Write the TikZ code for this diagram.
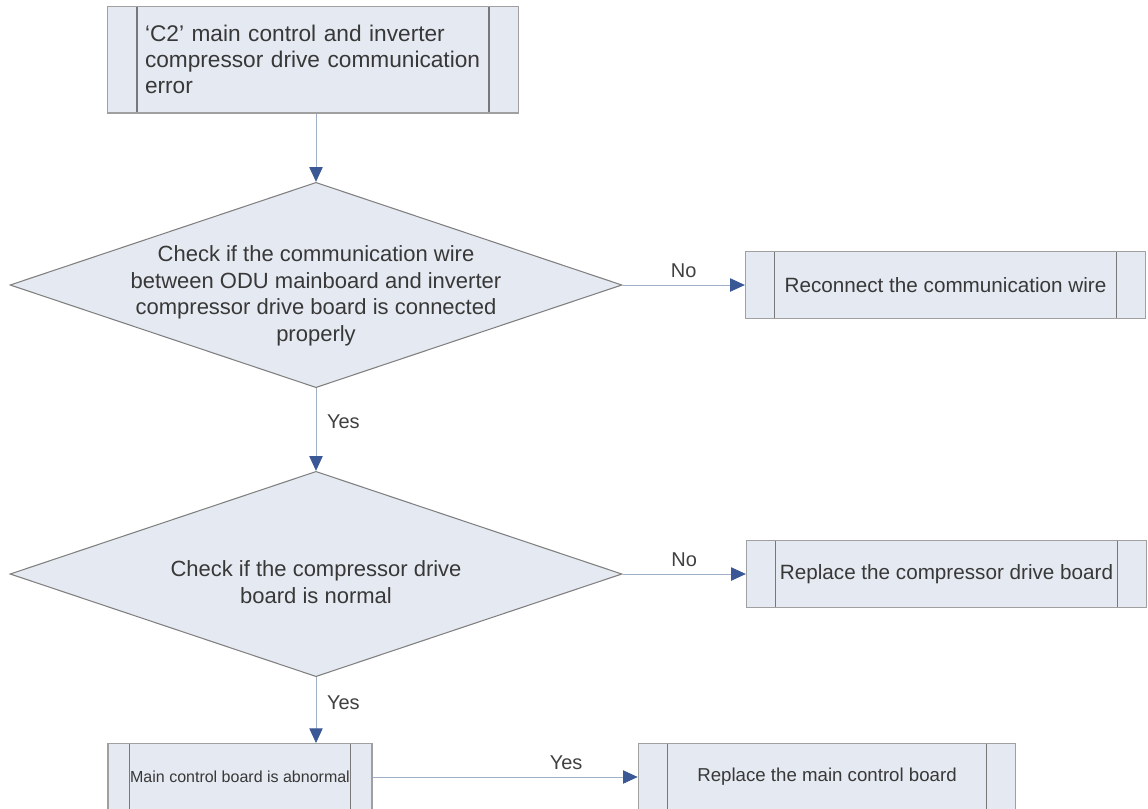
\documentclass[tikz,border=0pt]{standalone}
\usepackage{fontspec}
\setmainfont{Liberation Sans}
\usetikzlibrary{positioning,arrows.meta,shapes.geometric}
\definecolor{boxfill}{RGB}{229,233,241}
\definecolor{boxedge}{RGB}{160,160,160}
\definecolor{tipblue}{RGB}{58,88,150}
\definecolor{wire}{RGB}{160,176,200}
\colorlet{txt}{black!78}
\tikzset{
  proc inset/.store in=\procinset, proc inset=22pt,
  proc/.style={draw=boxedge, fill=boxfill, line width=1pt, minimum width=#1, minimum height=50pt,
               inner sep=0pt, font=\fontsize{15.5}{20}\selectfont, text=txt,
               path picture={\draw[boxedge!75!black, line width=0.8pt]
                 ([xshift=\procinset]path picture bounding box.north west) -- ([xshift=\procinset]path picture bounding box.south west)
                 ([xshift=-\procinset]path picture bounding box.north east) -- ([xshift=-\procinset]path picture bounding box.south east);}},
  decision/.style={diamond, draw=black!50, fill=boxfill, line width=0.8pt,
                   minimum width=459pt, minimum height=154pt, inner sep=0pt},
  dtext/.style={align=center, font=\fontsize{16.5}{20}\selectfont, text=txt, inner sep=0pt},
  flow/.style={-{Triangle[length=11pt,width=10pt,color=tipblue]}, draw=wire, line width=0.6pt},
  lbl/.style={font=\fontsize{15}{18}\selectfont, text=black!75, inner sep=2pt},
}
\begin{document}
\begin{tikzpicture}[x=0.75pt, y=-0.75pt]
\useasboundingbox (0,0) rectangle (1148,808);
\clip (0,0) rectangle (1148,808);

% error code and the two checks
\node[proc=308pt, minimum height=80pt, text width=252pt, align=left, font=\fontsize{17}{19.5}\selectfont] (err) at (313,59.5)
  {`C2' main control and inverter\\compressor drive communication\\error};
\node[decision, label={[dtext, yshift=-8pt]center:{Check if the communication wire\\between ODU mainboard and inverter\\compressor drive board is connected\\properly}}] (chkwire) at (316,285) {};
\node[decision, label={[dtext, yshift=-6pt]center:{Check if the compressor drive\\board is normal}}] (chkdrive) at (316,574) {};

% actions
\node[proc=300pt] (rewire) at (945.5,285) {Reconnect the communication wire};
\node[proc=300pt] (newdrive) at (946.5,574) {Replace the compressor drive board};
\node[proc=198pt, proc inset=16pt, font=\fontsize{12}{15}\selectfont] (mainbad) at (240,777) {Main control board is abnormal};
\node[proc=283pt, font=\fontsize{14}{17}\selectfont] (newmain) at (827,777) {Replace the main control board};

% connectors
\draw[flow] (err.south -| chkwire.north) -- (chkwire.north);
\draw[flow] (chkwire.east) -- node[lbl, above=3pt] {No} (rewire.west);
\draw[flow] (chkwire.south) -- node[lbl, right=6pt, pos=0.4] {Yes} (chkdrive.north);
\draw[flow] (chkdrive.east) -- node[lbl, above=3pt] {No} (newdrive.west);
\draw[flow] (chkdrive.south) -- node[lbl, right=6pt, pos=0.38] {Yes} (chkdrive.south |- mainbad.north);
\draw[flow] (mainbad.east) -- node[lbl, above=3pt, pos=0.73] {Yes} (newmain.west);
\end{tikzpicture}
\end{document}
